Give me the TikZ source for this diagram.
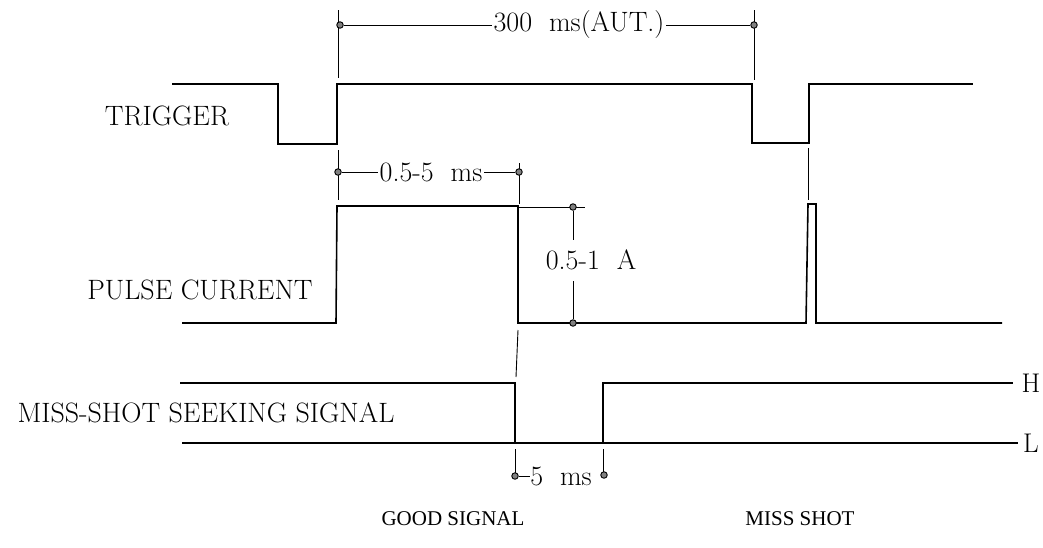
\documentclass[tikz,border=0pt]{standalone}
\usepackage{fontspec}
\newfontfamily\tms{Liberation Serif}
\begin{document}
\begin{tikzpicture}[x=1pt,y=-1pt,
  sig/.style={line width=1.6pt,line join=miter},
  dim/.style={line width=0.8pt},
  ext/.style={line width=0.9pt},
  dotm/.style={circle,draw=black,fill=gray,line width=0.9pt,inner sep=0pt,minimum size=6.5pt},
  lab/.style={font=\fontsize{28}{32}\selectfont\addfontfeatures{LetterSpace=2.5},inner sep=0pt},
  hl/.style={font=\fontsize{27}{30}\selectfont\addfontfeatures{LetterSpace=0},inner sep=0pt},
  num/.style={font=\fontsize{28}{32}\selectfont\addfontfeatures{LetterSpace=2},inner sep=1.5pt,fill=white},
  captxt/.style={font=\tms\fontsize{21}{24}\selectfont,inner sep=0pt}]
\useasboundingbox (0,0) rectangle (1043,547);
% labels
\node[lab] (ltrig) at (167,116) {TRIGGER};
\node[lab] (lpulse) at (200,290) {PULSE\ CURRENT};
\node[lab] (lmiss) at (206,413) {MISS-SHOT\ SEEKING\ SIGNAL};
\node[hl] (lH) at (1031,383) {H};
\node[hl] (lL) at (1031,443) {L};
\node[captxt] (lgood) at (453,519) {GOOD SIGNAL};
\node[captxt] (lshot) at (800,519) {MISS SHOT};
% trigger
\draw[sig] (172,84) -- (278,84) -- (278,144) -- (337,144) -- (337,84) -- (752,84) -- (752,143) -- (809,143) -- (809,84) -- (973,84);
% pulse current
\draw[sig] (182,323) -- (336,323) -- (337,206) -- (518,206) -- (518,323) -- (806,323) -- (808,204) -- (816,204) -- (816,323) -- (1002,323);
% miss-shot seeking signal
\draw[sig] (180,383) -- (515,383) -- (515,443);
\draw[sig] (603,443) -- (603,383) -- (1013,383);
\draw[sig] (182,443) -- (1018,443);
% extension lines
\coordinate (e1a) at (338,10); \coordinate (e1b) at (338,78);
\coordinate (e2a) at (754,10); \coordinate (e2b) at (754,80);
\draw[ext] (e1a) -- (e1b);
\draw[ext] (e2a) -- (e2b);
\draw[ext] (338,150) -- (338,200);
\draw[ext] (519,163) -- (519,204);
\draw[ext] (518,330) -- (516,377);
\draw[ext] (515,449) -- (515,478);
\draw[ext] (603,449) -- (603,476);
\draw[ext] (808,148) -- (808,200);
\draw[ext] (518,207) -- (585,207);
% 300 ms dimension
\node[dotm] (d1) at (340,25) {};
\node[dotm] (d2) at (754,25) {};
\node[num] (t300) at (579,25) {300\ \ ms(AUT.)};
\draw[dim] (d1) -- (t300.west);
\draw[dim] (t300.east) -- (d2);
% 0.5-5 ms dimension
\node[dotm] (d3) at (338,172) {};
\node[dotm] (d4) at (519,172) {};
\node[num] (t05) at (431,172) {0.5-5\ \ ms};
\draw[dim] (d3) -- (t05.west);
\draw[dim] (t05.east) -- (d4);
% 0.5-1 A dimension
\node[dotm] (d5) at (573,207) {};
\node[dotm] (d6) at (573,323) {};
\node[num] (t1a) at (591,260) {0.5-1\ \ A};
\draw[dim] (d5) -- (573,240);
\draw[dim] (573,281) -- (d6);
% 5 ms dimension
\node[dotm] (d7) at (515,476) {};
\node[dotm] (d8) at (604,475) {};
\node[num,inner sep=0pt] (t5) at (561,476) {5\ \ ms};
\draw[dim] (d7) -- (t5.west);
\end{tikzpicture}
\end{document}
